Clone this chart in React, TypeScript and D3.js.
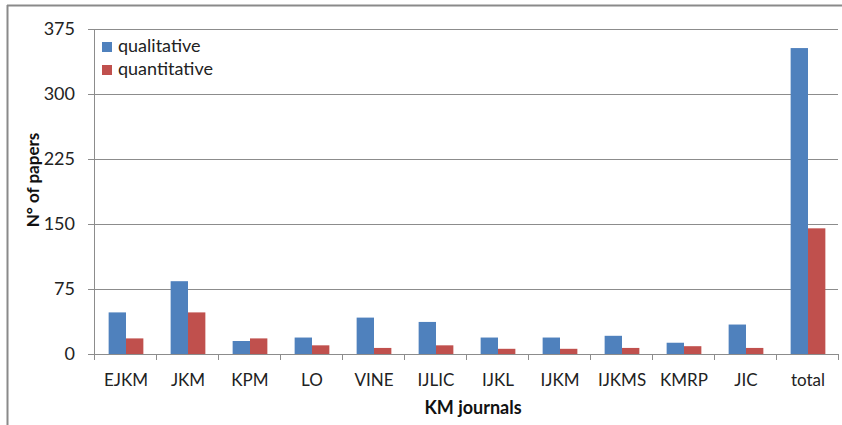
import React from "react";
import * as d3 from "d3";

const categories = ["EJKM", "JKM", "KPM", "LO", "VINE", "IJLIC", "IJKL", "IJKM", "IJKMS", "KMRP", "JIC", "total"];
const qualitative = [48, 84, 15, 19, 42, 37, 19, 19, 21, 13, 34, 353];
const quantitative = [18, 48, 18, 10, 7, 10, 6, 6, 7, 9, 7, 145];
const yTicks = [0, 75, 150, 225, 300, 375];
const seriesNames = ["qualitative", "quantitative"];
const colors = ["#4F81BD", "#C0504D"];

const W = 842;
const H = 425;
const left = 94;
const right = 838;
const top = 29;
const bottom = 354;
const font = "Lato, 'Open Sans', sans-serif";

export default function App() {
  const x = d3.scaleBand<string>().domain(categories).range([left, right]).paddingInner(0).paddingOuter(0);
  const y = d3.scaleLinear().domain([0, 375]).range([bottom, top]);
  const bw = x.bandwidth();
  const barW = bw * 0.28;
  const series = [qualitative, quantitative];
  const boundaries = categories.map((c) => x(c)!).concat([right]);

  return (
    <svg width={W} height={H} style={{ position: "absolute", left: 0, top: 0, background: "#fff" }}>
      <rect x={0} y={0} width={W} height={H} fill="#fff" />
      {/* outer frame */}
      <line x1={7.5} y1={5} x2={7.5} y2={H} stroke="#8a8a8a" strokeWidth={2} />
      <line x1={7} y1={5.5} x2={W} y2={5.5} stroke="#8a8a8a" strokeWidth={2} />
      {/* gridlines */}
      {yTicks.map((t) => (
        <g key={t}>
          {t > 0 && (
            <line x1={left - 6} x2={right} y1={Math.round(y(t)) + 0.5} y2={Math.round(y(t)) + 0.5} stroke="#8c8c8c" strokeWidth={1} />
          )}
          {t === 0 && (
            <line x1={left - 6} x2={left} y1={Math.round(y(t)) + 0.5} y2={Math.round(y(t)) + 0.5} stroke="#8c8c8c" strokeWidth={1} />
          )}
          <text x={75} y={y(t)} dy="0.35em" textAnchor="end" fontFamily={font} fontSize={18} fill="#222">
            {t}
          </text>
        </g>
      ))}
      {/* y axis */}
      <line x1={left + 0.5} x2={left + 0.5} y1={top} y2={bottom} stroke="#8c8c8c" strokeWidth={1} />
      {/* bars */}
      {series.map((vals, si) =>
        categories.map((c, i) => {
          const cx = x(c)! + bw / 2;
          const bx = cx - barW + si * barW + 1;
          return (
            <rect key={c + si} x={bx} y={y(vals[i])} width={barW} height={y(0) - y(vals[i])} fill={colors[si]} />
          );
        })
      )}
      {/* x axis */}
      <line x1={left} x2={right} y1={Math.round(y(0)) + 0.5} y2={Math.round(y(0)) + 0.5} stroke="#8c8c8c" strokeWidth={1} />
      {boundaries.map((b, i) => (
        <line key={i} x1={Math.round(b) + 0.5} x2={Math.round(b) + 0.5} y1={bottom} y2={bottom + 6} stroke="#8c8c8c" strokeWidth={1} />
      ))}
      {categories.map((c) => (
        <text key={c} x={x(c)! + bw / 2 + 1} y={386} textAnchor="middle" fontFamily={font} fontSize={17} fill="#222">
          {c}
        </text>
      ))}
      {/* axis titles */}
      <text x={473} y={414} textAnchor="middle" fontFamily={font} fontSize={18} fontWeight="bold" fill="#111">
        KM journals
      </text>
      <text
        transform={`translate(39, ${180}) rotate(-90)`}
        textAnchor="middle"
        fontFamily={font}
        fontSize={17}
        fontWeight="bold"
        fill="#111"
      >
        N° of papers
      </text>
      {/* legend */}
      {seriesNames.map((n, i) => (
        <g key={n}>
          <rect x={102} y={42 + i * 23} width={10} height={10} fill={colors[i]} />
          <text x={118} y={52 + i * 23} fontFamily={font} fontSize={18} fill="#222">
            {n}
          </text>
        </g>
      ))}
    </svg>
  );
}
